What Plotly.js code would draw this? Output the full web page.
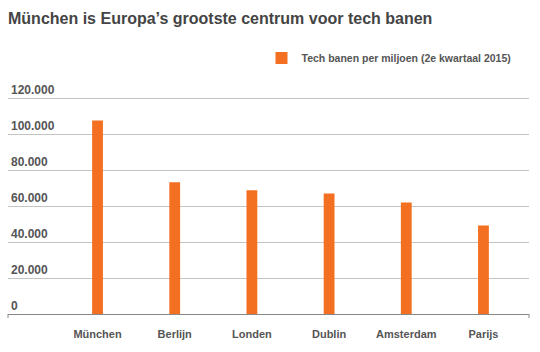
<!DOCTYPE html>
<html>
<head>
<meta charset="utf-8">
<script src="https://cdn.plot.ly/plotly-3.0.1.min.js"></script>
<style>html,body{margin:0;padding:0;background:#fff;}#chart{width:540px;height:352px;}</style>
</head>
<body>
<div id="chart"></div>
<script>
const cities = ["München", "Berlijn", "Londen", "Dublin", "Amsterdam", "Parijs"];
const techJobs = [107500, 73200, 68700, 67000, 62000, 49100];
const yTickVals = [0, 20000, 40000, 60000, 80000, 100000, 120000];
const yTickText = ["0", "20.000", "40.000", "60.000", "80.000", "100.000", "120.000"];
const seriesName = "Tech banen per miljoen (2e kwartaal 2015)";

const fontFam = "'Liberation Sans', Arial, Helvetica, sans-serif";
const data = [{
  type: "bar",
  x: cities,
  y: techJobs,
  name: seriesName,
  width: 0.14,
  marker: {color: "#F36F21"},
  showlegend: true
}];

const plotH = 314 - 78;
const layout = {
  width: 540, height: 352,
  margin: {l: 8, r: 11, t: 78, b: 38},
  paper_bgcolor: "#fff", plot_bgcolor: "#fff",
  title: {
    text: "<b>München is Europa’s grootste centrum voor tech banen</b>",
    x: 0, xref: "paper", xanchor: "left",
    y: 1 - 18/352, yref: "container", yanchor: "middle",
    font: {family: fontFam, size: 16, color: "#444"}
  },
  showlegend: true,
  legend: {
    x: 0.976, xanchor: "right", y: 1 + 20/plotH, yanchor: "middle",
    font: {family: fontFam, size: 10.5, color: "#555", weight: "bold"},
    bgcolor: "rgba(0,0,0,0)"
  },
  xaxis: {
    type: "category",
    range: [-1.16, 5.59],
    showgrid: false, zeroline: false,
    showline: true, linecolor: "#888", linewidth: 1,
    ticks: "", ticklabelstandoff: 10,
    tickfont: {family: fontFam, size: 11, color: "#555", weight: "bold"},
    fixedrange: true
  },
  yaxis: {
    range: [0, 131111],
    tickvals: yTickVals, ticktext: yTickText,
    ticklabelposition: "inside top",
    showgrid: true, gridcolor: "#c4c4c4", gridwidth: 1,
    zeroline: false, showline: false, ticks: "",
    tickfont: {family: fontFam, size: 12, color: "#555", weight: "bold"},
    fixedrange: true
  },
  shapes: [
    {type: "line", xref: "paper", yref: "paper", x0: 0, x1: 0, y0: 0, y1: -4/plotH, line: {color: "#888", width: 1}},
    {type: "line", xref: "paper", yref: "paper", x0: 1, x1: 1, y0: 0, y1: -4/plotH, line: {color: "#888", width: 1}}
  ]
};

Plotly.newPlot("chart", data, layout, {displayModeBar: false, staticPlot: true});
</script>
</body>
</html>
